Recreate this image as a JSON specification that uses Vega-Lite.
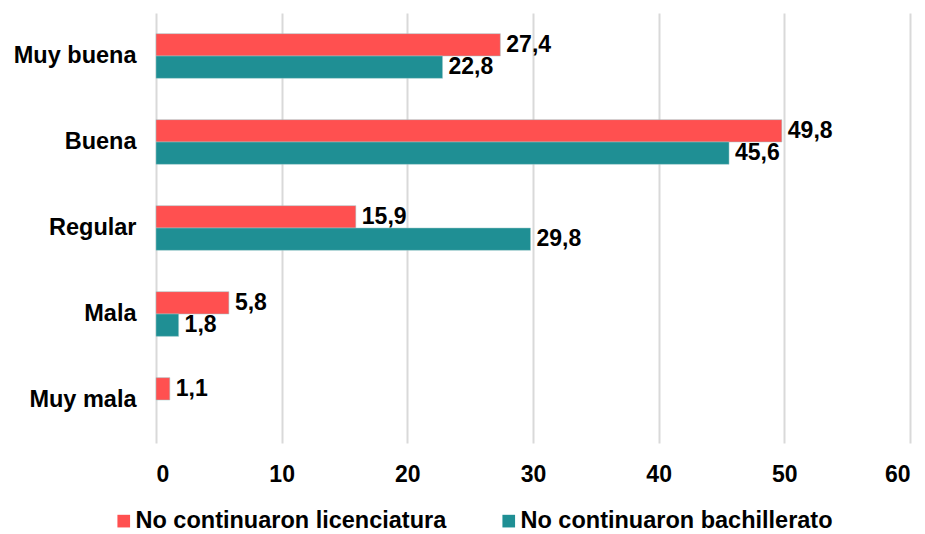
{
  "$schema": "https://vega.github.io/schema/vega-lite/v6.json",
  "width": 754,
  "height": 430,
  "autosize": {"type": "none"},
  "padding": {"left": 156, "top": 13, "right": 15, "bottom": 91},
  "background": "white",
  "data": {
    "values": [
      {"categoria": "Muy buena", "grupo": "No continuaron licenciatura", "valor": 27.4},
      {"categoria": "Muy buena", "grupo": "No continuaron bachillerato", "valor": 22.8},
      {"categoria": "Buena", "grupo": "No continuaron licenciatura", "valor": 49.8},
      {"categoria": "Buena", "grupo": "No continuaron bachillerato", "valor": 45.6},
      {"categoria": "Regular", "grupo": "No continuaron licenciatura", "valor": 15.9},
      {"categoria": "Regular", "grupo": "No continuaron bachillerato", "valor": 29.8},
      {"categoria": "Mala", "grupo": "No continuaron licenciatura", "valor": 5.8},
      {"categoria": "Mala", "grupo": "No continuaron bachillerato", "valor": 1.8},
      {"categoria": "Muy mala", "grupo": "No continuaron licenciatura", "valor": 1.1}
    ]
  },
  "encoding": {
    "y": {
      "field": "categoria",
      "type": "nominal",
      "sort": ["Muy buena", "Buena", "Regular", "Mala", "Muy mala"],
      "scale": {"paddingInner": 0.48, "paddingOuter": 0.24},
      "axis": {
        "title": null,
        "domain": false,
        "ticks": false,
        "labelPadding": 20,
        "labelFont": "Liberation Sans",
        "labelFontWeight": "bold",
        "labelFontSize": 23.5,
        "labelColor": "#000000"
      }
    },
    "yOffset": {
      "field": "grupo",
      "type": "nominal",
      "sort": ["No continuaron licenciatura", "No continuaron bachillerato"]
    },
    "x": {
      "field": "valor",
      "type": "quantitative",
      "scale": {"domain": [0, 60], "nice": false},
      "axis": {
        "title": null,
        "values": [0, 10, 20, 30, 40, 50, 60],
        "domain": false,
        "ticks": false,
        "grid": true,
        "gridColor": "#d9d9d9",
        "gridWidth": 2,
        "labelPadding": 20,
        "labelFont": "Liberation Sans",
        "labelFontWeight": "bold",
        "labelFontSize": 23,
        "labelColor": "#000000",
        "format": "d"
      }
    }
  },
  "layer": [
    {
      "mark": {"type": "bar", "stroke": "#9fc9cb", "strokeWidth": 0.5},
      "encoding": {
        "color": {
          "field": "grupo",
          "type": "nominal",
          "sort": ["No continuaron licenciatura", "No continuaron bachillerato"],
          "scale": {
            "domain": ["No continuaron licenciatura", "No continuaron bachillerato"],
            "range": ["#ff5050", "#1f8f94"]
          },
          "legend": {
            "title": null,
            "orient": "none",
            "legendX": -44,
            "legendY": 496,
            "direction": "horizontal",
            "symbolType": "square",
            "symbolSize": 160,
            "symbolStrokeWidth": 0,
            "labelOffset": 0,
            "labelFont": "Liberation Sans",
            "labelFontWeight": "bold",
            "labelFontSize": 23.5,
            "labelColor": "#000000",
            "columnPadding": 50,
            "padding": 0,
            "labelLimit": 400
          }
        }
      }
    },
    {
      "mark": {
        "type": "text",
        "align": "left",
        "baseline": "middle",
        "dx": 6,
        "font": "Liberation Sans",
        "fontWeight": "bold",
        "fontSize": 23,
        "color": "#000000"
      },
      "encoding": {
        "text": {"field": "valor", "type": "quantitative", "format": ".1f"}
      }
    }
  ],
  "config": {
    "view": {"stroke": null},
    "locale": {
      "number": {
        "decimal": ",",
        "thousands": ".",
        "grouping": [3],
        "currency": ["", " €"]
      }
    }
  }
}
